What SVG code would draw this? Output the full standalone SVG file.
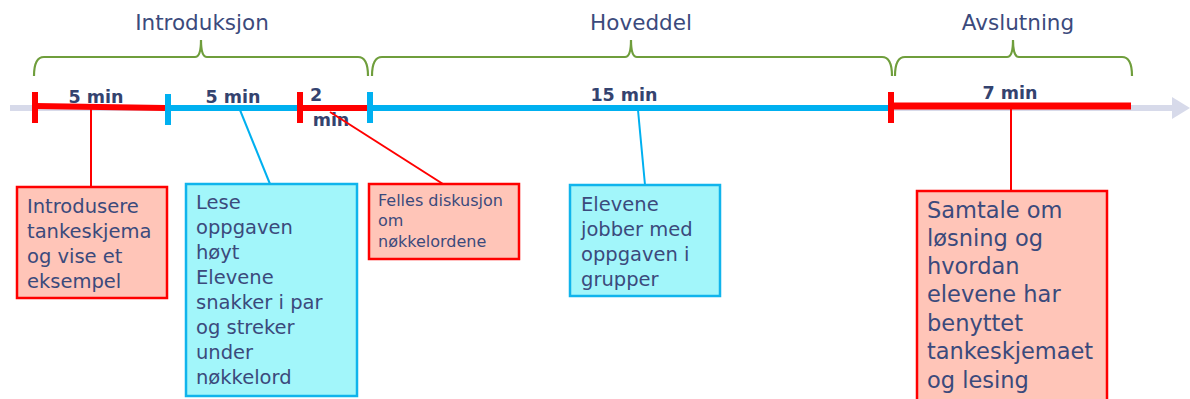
<svg xmlns="http://www.w3.org/2000/svg" width="1190" height="399" viewBox="0 0 1190 399">
<style>
.t{font-family:"DejaVu Sans","Liberation Sans",sans-serif;fill:#3b4a7c}
.title{font-size:21.5px;text-anchor:middle}
.dur{font-size:17.5px;font-weight:bold;text-anchor:middle;fill:#34436f}
.brace{fill:none;stroke:#6f9e3c;stroke-width:2.2}
.red{stroke:#ff0000}
.blue{stroke:#00b0f0}
.rbox{fill:#ffc5b8;stroke:#ff0000;stroke-width:2.5}
.bbox{fill:#a2f6fa;stroke:#10b4ec;stroke-width:2.5}
.b18{font-size:19.5px}
.b14{font-size:16px}
.b22{font-size:22.5px}
</style>
<rect width="1190" height="399" fill="#ffffff"/>
<g id="titles">
<text class="t title" x="202" y="30">Introduksjon</text>
<text class="t title" x="641" y="30">Hoveddel</text>
<text class="t title" x="1018" y="30">Avslutning</text>
</g>
<g id="braces">
<path class="brace" d="M34,76 Q34,57 44,57 L195,57 Q201,57 201,40 Q201,57 207,57 L358,57 Q368,57 368,76"/>
<path class="brace" d="M372,76 Q372,57 382,57 L625,57 Q631,57 631,40 Q631,57 637,57 L882,57 Q892,57 892,76"/>
<path class="brace" d="M895,76 Q895,57 905,57 L1007,57 Q1013,57 1013,40 Q1013,57 1019,57 L1122,57 Q1132,57 1132,76"/>
</g>
<g id="timeline">
<line x1="10" y1="108" x2="1175" y2="108" stroke="#d7daea" stroke-width="6"/>
<polygon points="1172,97 1190,108 1172,119" fill="#d7daea"/>
<line class="red" x1="35" y1="106" x2="165" y2="108" stroke-width="6"/>
<line class="blue" x1="165" y1="108" x2="300" y2="108" stroke-width="6"/>
<line class="red" x1="300" y1="108" x2="368" y2="108" stroke-width="6"/>
<line class="blue" x1="368" y1="108" x2="890" y2="108" stroke-width="6"/>
<line class="red" x1="891" y1="106" x2="1131" y2="106" stroke-width="7"/>
<line class="red" x1="35" y1="92" x2="35" y2="123" stroke-width="6"/>
<line class="blue" x1="168" y1="94" x2="168" y2="125" stroke-width="6"/>
<line class="red" x1="300" y1="92" x2="300" y2="123" stroke-width="6"/>
<line class="blue" x1="370" y1="92" x2="370" y2="123" stroke-width="6"/>
<line class="red" x1="891" y1="92" x2="891" y2="123" stroke-width="6"/>
<text class="t dur" x="96" y="103">5 min</text>
<text class="t dur" x="233" y="103">5 min</text>
<text class="t dur" x="316" y="101">2</text>
<text class="t dur" x="331" y="126">min</text>
<text class="t dur" x="624" y="101">15 min</text>
<text class="t dur" x="1010" y="99">7 min</text>
</g>
<g id="connectors" fill="none" stroke-width="2">
<line class="red" x1="91" y1="108" x2="91" y2="187"/>
<line class="blue" x1="240" y1="110" x2="270" y2="184"/>
<line class="red" x1="330" y1="112" x2="443" y2="184"/>
<line class="blue" x1="638" y1="110" x2="645" y2="185"/>
<line class="red" x1="1011" y1="108" x2="1011" y2="191"/>
</g>
<g id="node1">
<rect class="rbox" x="17" y="187" width="150" height="111"/>
<text class="t b18" x="27" y="213">Introdusere</text>
<text class="t b18" x="27" y="238">tankeskjema</text>
<text class="t b18" x="27" y="263">og vise et</text>
<text class="t b18" x="27" y="288">eksempel</text>
</g>
<g id="node2">
<rect class="bbox" x="186" y="184" width="171" height="212"/>
<text class="t b18" x="196" y="209">Lese</text>
<text class="t b18" x="196" y="234">oppgaven</text>
<text class="t b18" x="196" y="259">høyt</text>
<text class="t b18" x="196" y="284">Elevene</text>
<text class="t b18" x="196" y="309">snakker i par</text>
<text class="t b18" x="196" y="334">og streker</text>
<text class="t b18" x="196" y="359">under</text>
<text class="t b18" x="196" y="384">nøkkelord</text>
</g>
<g id="node3">
<rect class="rbox" x="369" y="184" width="150" height="75"/>
<text class="t b14" x="378" y="206">Felles diskusjon</text>
<text class="t b14" x="378" y="226">om</text>
<text class="t b14" x="378" y="247">nøkkelordene</text>
</g>
<g id="node4">
<rect class="bbox" x="570" y="185" width="150" height="111"/>
<text class="t b18" x="581" y="211">Elevene</text>
<text class="t b18" x="581" y="236">jobber med</text>
<text class="t b18" x="581" y="261">oppgaven i</text>
<text class="t b18" x="581" y="286">grupper</text>
</g>
<g id="node5">
<rect class="rbox" x="917" y="191" width="190" height="212"/>
<text class="t b22" x="927" y="218">Samtale om</text>
<text class="t b22" x="927" y="246">løsning og</text>
<text class="t b22" x="927" y="274">hvordan</text>
<text class="t b22" x="927" y="302">elevene har</text>
<text class="t b22" x="927" y="331">benyttet</text>
<text class="t b22" x="927" y="359">tankeskjemaet</text>
<text class="t b22" x="927" y="388">og lesing</text>
</g>
</svg>
